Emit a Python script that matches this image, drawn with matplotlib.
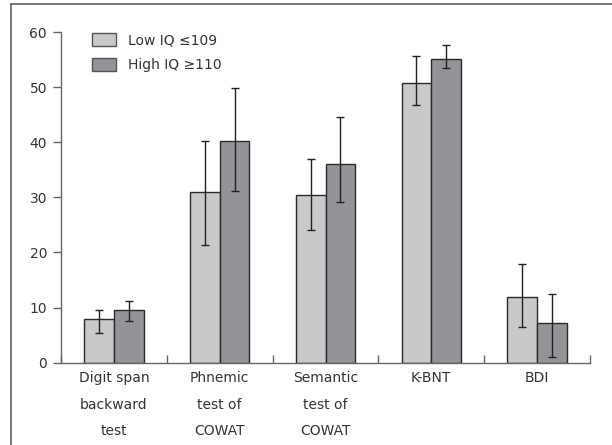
import numpy as np
import matplotlib
matplotlib.use("Agg")
import matplotlib.pyplot as plt
from matplotlib.lines import Line2D
from matplotlib.patches import Patch

# data
categories = ["Digit span\nbackward\ntest", "Phnemic\ntest of\nCOWAT",
              "Semantic\ntest of\nCOWAT", "K-BNT", "BDI"]
low_iq = [8.0, 30.9, 30.4, 50.7, 11.9]
low_err_lo = [2.7, 9.6, 6.3, 3.9, 5.4]
low_err_hi = [1.6, 9.3, 6.6, 5.0, 6.0]
high_iq = [9.6, 40.3, 36.1, 55.1, 7.2]
high_err_lo = [2.0, 9.2, 7.0, 1.7, 6.2]
high_err_hi = [1.6, 9.5, 8.4, 2.6, 5.3]
series_names = ["Low IQ \u2264109", "High IQ \u2265110"]

W, H = 612, 445
plt.rcParams['font.family'] = ['DejaVu Sans']
fig = plt.figure(figsize=(W / 100, H / 100), dpi=100)

# outer frame (left and top edges visible)
fig.add_artist(Line2D([11 / W, 11 / W], [0, 1 - 4 / H], transform=fig.transFigure,
                      color='#6e6e6e', lw=1.3))
fig.add_artist(Line2D([11 / W, 1.02], [1 - 4 / H, 1 - 4 / H], transform=fig.transFigure,
                      color='#6e6e6e', lw=1.3))

ax = fig.add_axes([61 / W, 1 - 362.7 / H, (590 - 61) / W, (362.7 - 32) / H])

x = np.arange(len(categories)) + 0.5
bw = 0.28
c_low = '#c8c9cb'
c_high = '#939497'
edge = '#2a2a2a'

ax.bar(x - bw / 2, low_iq, bw, color=c_low, edgecolor=edge, linewidth=1.0, zorder=2)
ax.bar(x + bw / 2, high_iq, bw, color=c_high, edgecolor=edge, linewidth=1.0, zorder=2)
ax.errorbar(x - bw / 2, low_iq, yerr=[low_err_lo, low_err_hi], fmt='none',
            ecolor='#222222', elinewidth=1.0, capsize=3, capthick=1.0, zorder=3)
ax.errorbar(x + bw / 2, high_iq, yerr=[high_err_lo, high_err_hi], fmt='none',
            ecolor='#222222', elinewidth=1.0, capsize=3, capthick=1.0, zorder=3)

ax.set_xlim(0, len(categories))
ax.set_ylim(0, 60)
ax.spines['top'].set_visible(False)
ax.spines['right'].set_visible(False)
for s in ['left', 'bottom']:
    ax.spines[s].set_color('#666666')
    ax.spines[s].set_linewidth(1.0)

ax.set_yticks(np.arange(0, 61, 10))
ax.tick_params(axis='y', direction='out', length=6, width=1.0, color='#666666',
               labelsize=10, labelcolor='#333333', pad=4)

ax.set_xticks(np.arange(0, len(categories) + 1))
ax.set_xticklabels([])
ax.tick_params(axis='x', which='major', direction='in', length=6, width=1.0, color='#666666')
ax.set_xticks(x, minor=True)
ax.set_xticklabels(categories, minor=True, linespacing=2.15)
ax.tick_params(axis='x', which='minor', length=0, labelsize=10, labelcolor='#333333', pad=6)

handles = [Patch(facecolor=c_low, edgecolor='#555555', linewidth=1.0),
           Patch(facecolor=c_high, edgecolor='#555555', linewidth=1.0)]
ax.legend(handles, series_names, loc='upper left', bbox_to_anchor=(0.035, 1.035),
          frameon=False, fontsize=10, labelcolor='#333333', handlelength=1.7,
          handleheight=1.1, handletextpad=0.9, labelspacing=0.75)

fig.savefig("out.png", dpi=100)
